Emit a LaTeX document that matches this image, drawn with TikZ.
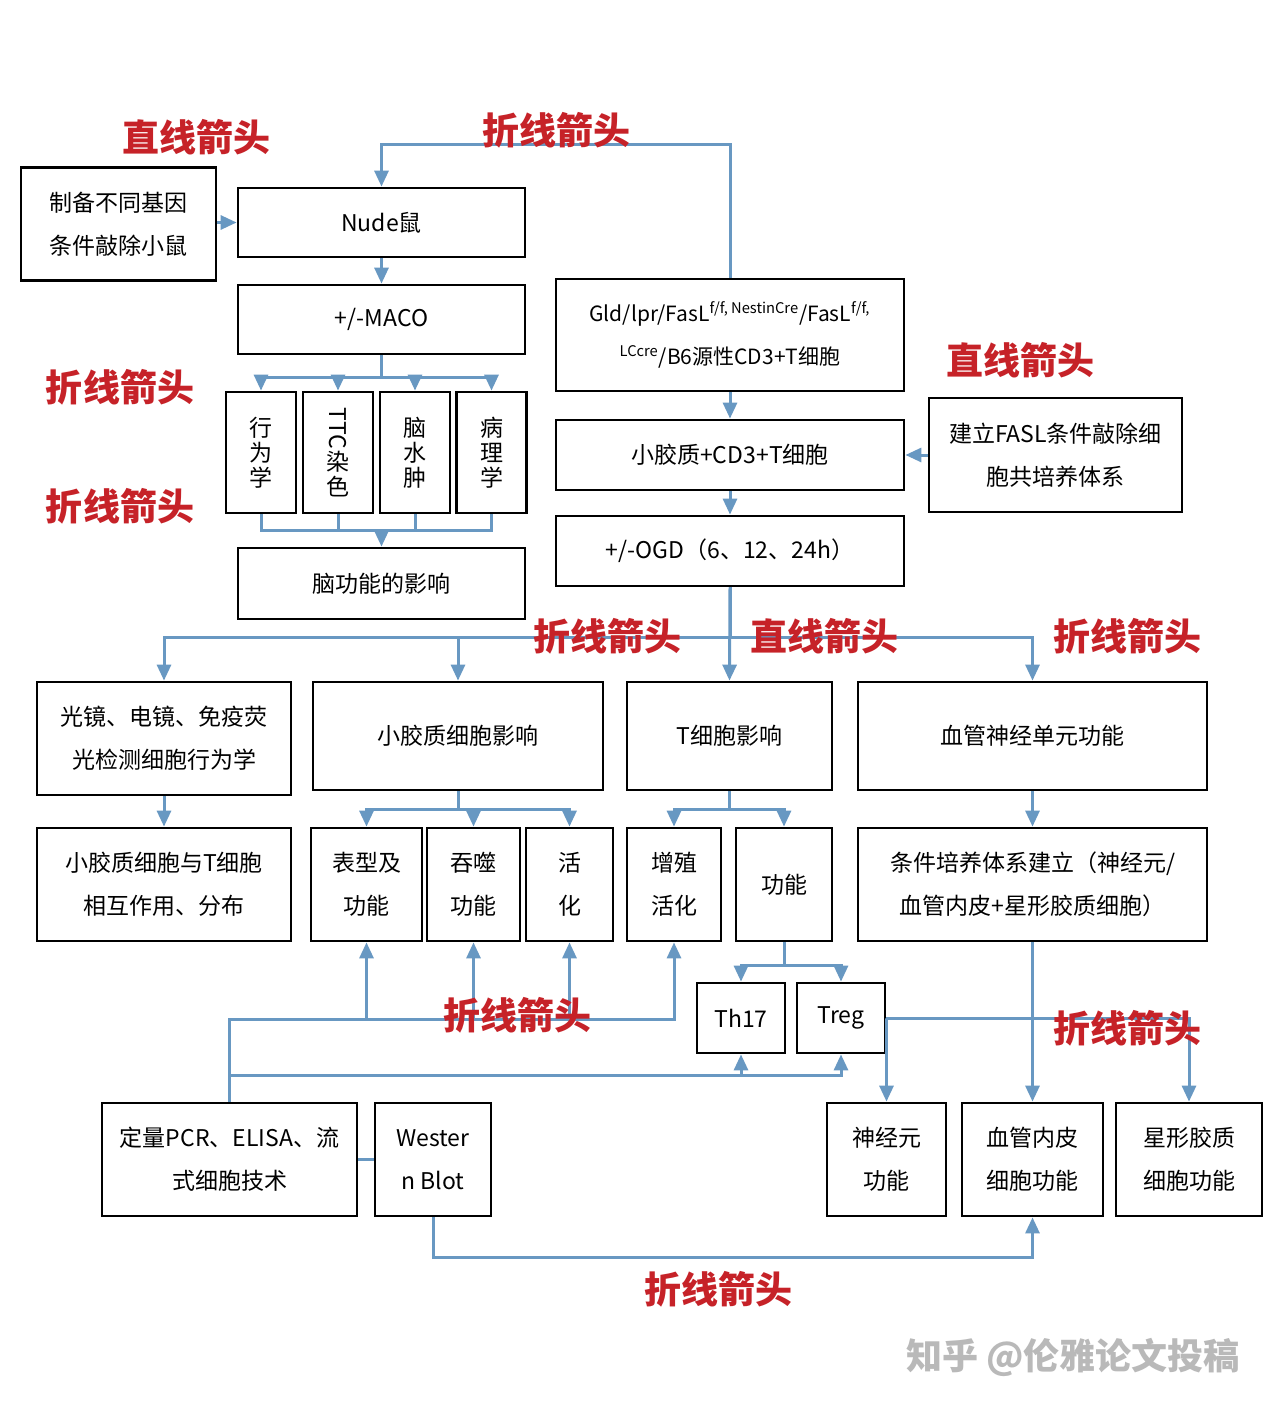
\documentclass[tikz,border=0pt]{standalone}
\usepackage{fontspec}
\setmainfont{Noto Sans CJK SC}
\usepackage{graphicx}
\usepackage{xcolor}
\usetikzlibrary{positioning,arrows.meta}
\definecolor{linkblue}{RGB}{104,152,194}
\definecolor{tagred}{RGB}{198,34,40}
\definecolor{markgray}{RGB}{185,185,185}

\begin{document}
\begin{tikzpicture}[x=0.5pt, y=-0.5pt, box/.style={draw, line width=1.4pt, inner sep=0pt, align=center, font=\fontsize{11.5}{21.5}\selectfont}, tall/.style={box, font=\fontsize{11.5}{12.5}\selectfont}, boxsize/.style 2 args={minimum width=#1, minimum height=#2}, rel/.style={-{Triangle[width=7pt,length=8pt]}, linkblue, line width=1.5pt}, link/.style={linkblue, line width=1.5pt}, tag/.style={text=tagred, font=\fontsize{18.5}{20}\selectfont\bfseries}]
\useasboundingbox[fill=white] (0,0) rectangle (1280,1407);
% left column: animal model
\node[box, boxsize={97.5pt}{56.5pt}] (prep) at (118.5,224) {制备不同基因\\条件敲除小鼠};
\node[box, boxsize={143.5pt}{34.5pt}] (nude) at (381.5,222.5) {Nude鼠};
\node[box, boxsize={143.5pt}{34.5pt}] (maco) at (381.5,319.5) {+/-MACO};
\node[tall, boxsize={35pt}{60.5pt}] (behav) at (261,452.5) {行\\为\\学};
\node[tall, boxsize={35pt}{60.5pt}] (ttc) at (338,452.5) {\rotatebox{-90}{TTC}\\染\\色};
\node[tall, boxsize={35pt}{60.5pt}] (edema) at (415,452.5) {脑\\水\\肿};
\node[tall, boxsize={35pt}{60.5pt}] (patho) at (491.5,452.5) {病\\理\\学};
\node[box, boxsize={143.5pt}{35.5pt}] (brain) at (381.5,583.5) {脑功能的影响};
\coordinate (joinA) at (381.5,530);
% right column: co-culture
\node[box, boxsize={174pt}{56pt}, font=\fontsize{10.5}{21.5}\selectfont] (gld) at (730,335) {Gld/lpr/FasL\textsuperscript{f/f, NestinCre}/FasL\textsuperscript{f/f,}\\\textsuperscript{LCcre}/B6源性CD3+T细胞};
\node[box, boxsize={174pt}{35pt}] (cocult) at (730,455) {小胶质+CD3+T细胞};
\node[box, boxsize={126.5pt}{57pt}] (fasl) at (1055.5,455) {建立FASL条件敲除细\\胞共培养体系};
\node[box, boxsize={174pt}{35pt}] (ogd) at (730,551) {+/-OGD（6、12、24h）};
% effects
\node[box, boxsize={127pt}{56.5pt}] (optic) at (164,738.5) {光镜、电镜、免疫荧\\光检测细胞行为学};
\node[box, boxsize={145pt}{54pt}] (mgeff) at (458,736) {小胶质细胞影响};
\node[box, boxsize={102.5pt}{54pt}] (teff) at (729.5,736) {T细胞影响};
\node[box, boxsize={174.5pt}{54pt}] (nvu) at (1032.5,736) {血管神经单元功能};
\node[box, boxsize={127pt}{56.5pt}] (inter) at (164,884.5) {小胶质细胞与T细胞\\相互作用、分布};
\node[box, boxsize={55.5pt}{56.5pt}] (pheno) at (366.5,884.5) {表型及\\功能};
\node[box, boxsize={46.5pt}{56.5pt}] (phago) at (473.5,884.5) {吞噬\\功能};
\node[box, boxsize={43.5pt}{56.5pt}] (activ) at (569.5,884.5) {活\\化};
\node[box, boxsize={47pt}{56.5pt}] (prolif) at (674,884.5) {增殖\\活化};
\node[box, boxsize={48pt}{56.5pt}] (func) at (784,884.5) {功能};
\node[box, boxsize={174.5pt}{56.5pt}] (cond) at (1032.5,884.5) {条件培养体系建立（神经元/\\血管内皮+星形胶质细胞）};
\node[box, boxsize={44pt}{35pt}] (th17) at (741,1018) {Th17};
\node[box, boxsize={44pt}{35pt}] (treg) at (841,1018) {Treg};
% methods and readouts
\node[box, boxsize={127.5pt}{56.5pt}] (pcr) at (229.5,1159.5) {定量PCR、ELISA、流\\式细胞技术};
\node[box, boxsize={58pt}{56.5pt}] (wb) at (433,1159.5) {Wester\\n Blot};
\node[box, boxsize={59.5pt}{56.5pt}] (neuron) at (886.5,1159.5) {神经元\\功能};
\node[box, boxsize={70.5pt}{56.5pt}] (endo) at (1032.5,1159.5) {血管内皮\\细胞功能};
\node[box, boxsize={73pt}{56.5pt}] (astro) at (1189,1159.5) {星形胶质\\细胞功能};
% connectors
\draw[rel] (prep.east |- nude.west) -- (nude.west);
\draw[rel] (gld.north) -- ++(0,-133) -| (nude.north);
\draw[rel] (nude) -- (maco);
\foreach \b in {behav,ttc,edema,patho} {
  \draw[rel] (maco.south) -- ++(0,22) -| (\b.north);
  \draw[link] (\b.south) |- (joinA);
}
\draw[rel] (joinA) -- (brain.north);
\draw[rel] (gld) -- (cocult);
\draw[rel] (fasl) -- (cocult);
\draw[rel] (cocult) -- (ogd);
\draw[rel] (ogd.south) -- (teff.north);
\foreach \b in {optic,mgeff,nvu}
  \draw[rel] (ogd.south) -- ++(0,50) -| (\b.north);
\draw[rel] (optic) -- (inter);
\foreach \b in {pheno,phago,activ}
  \draw[rel] (mgeff.south) -- ++(0,18) -| (\b.north);
\foreach \b in {prolif,func}
  \draw[rel] (teff.south) -- ++(0,18) -| (\b.north);
\draw[rel] (nvu) -- (cond);
\foreach \b in {th17,treg}
  \draw[rel] (func.south) -- ++(0,23) -| (\b.north);
\draw[rel] (cond.south) -- (endo.north);
\foreach \b in {neuron,astro}
  \draw[rel] (treg.east) -| (\b.north);
\foreach \b in {pheno,phago,activ,prolif}
  \draw[rel] (pcr.north) -- ++(0,-82) -| (\b.south);
\foreach \b in {th17,treg}
  \draw[rel] (pcr.north) -- ++(0,-26) -| (\b.south);
\draw[link] (pcr) -- (wb);
\draw[rel] (wb.south) -- ++(0,40) -| (endo.south);
% red tags
\node[tag] (tagA) at (196,137) {直线箭头};
\node[tag] (tagB) at (556,130) {折线箭头};
\node[tag] (tagC) at (120,387) {折线箭头};
\node[tag] (tagD) at (120,506) {折线箭头};
\node[tag] (tagE) at (1020,360) {直线箭头};
\node[tag] (tagF) at (607,636) {折线箭头};
\node[tag] (tagG) at (824,636) {直线箭头};
\node[tag] (tagH) at (1127,636) {折线箭头};
\node[tag] (tagI) at (517,1015) {折线箭头};
\node[tag] (tagJ) at (1127,1028) {折线箭头};
\node[tag] (tagK) at (718,1289) {折线箭头};
\node[text=markgray, font=\fontsize{18}{20}\selectfont\bfseries] (mark) at (1073,1357) {知乎 @伦雅论文投稿};
\end{tikzpicture}
\end{document}
